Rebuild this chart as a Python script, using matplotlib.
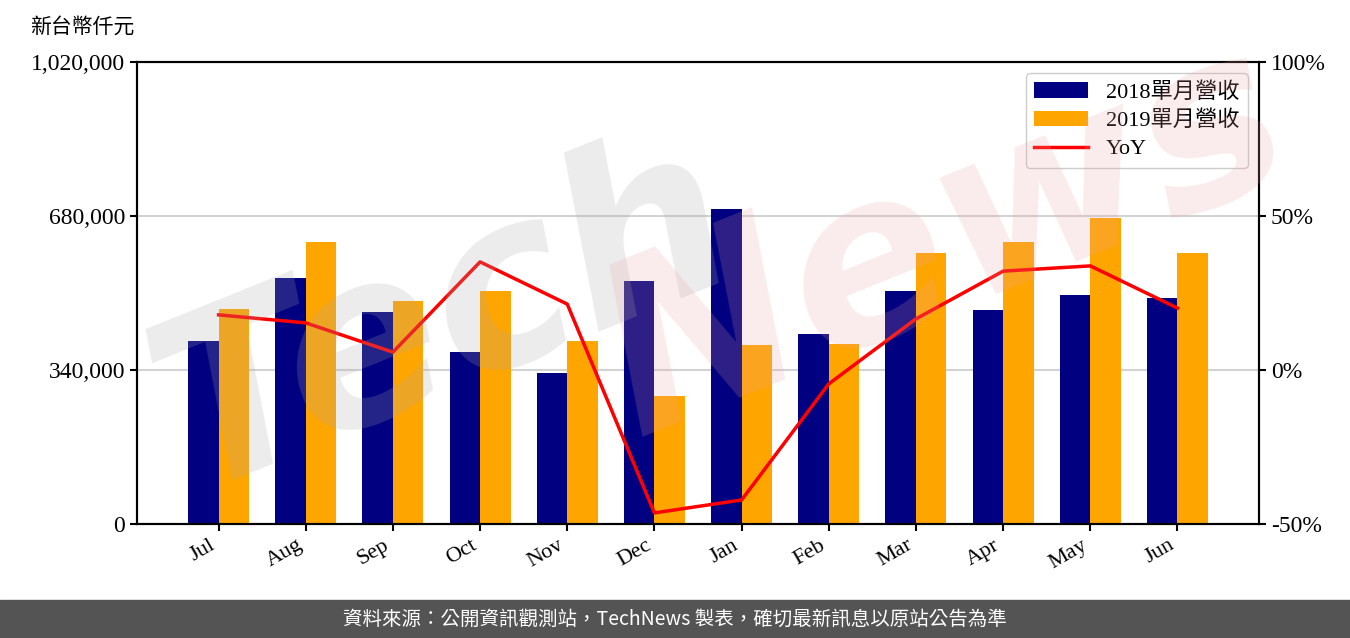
import matplotlib.pyplot as plt
import numpy as np
from matplotlib.patches import Rectangle

months = ['Jul', 'Aug', 'Sep', 'Oct', 'Nov', 'Dec', 'Jan', 'Feb', 'Mar', 'Apr', 'May', 'Jun']
rev_2018 = [404000, 543000, 468000, 380000, 333000, 536000, 695000, 419000, 514000, 472000, 505000, 499000]
rev_2019 = [475000, 623000, 492000, 514000, 404000, 283000, 395000, 397000, 598000, 623000, 676000, 598000]
yoy = [17.9, 15.3, 5.8, 35.1, 21.4, -46.4, -42.2, -4.5, 16.6, 32.1, 33.8, 20.1]

serif = ['Liberation Serif', 'Noto Sans CJK TC']
cjk = ['Noto Sans CJK TC', 'DejaVu Sans']
plt.rcParams['font.family'] = serif

fig = plt.figure(figsize=(13.5, 6.38), dpi=100)
ax = fig.add_axes([0.1015, 0.1787, 0.8311, 0.7241])
x = np.arange(len(months))
w = 0.35
ax.bar(x - w / 2, rev_2018, w, color='#000080', label='2018單月營收', zorder=2)
ax.bar(x + w / 2, rev_2019, w, color='#ffa500', label='2019單月營收', zorder=2)
ax.set_ylim(0, 1020000)
ax.set_yticks([0, 340000, 680000, 1020000])
ax.set_yticklabels(['0', '340,000', '680,000', '1,020,000'], fontsize=17)
ax.set_xticks(x)
ax.set_xticklabels(months, rotation=30, ha='right', fontsize=16)
ax.grid(axis='y', color='#d3d3d3', lw=1.5, zorder=0)
for s in ax.spines.values():
    s.set_linewidth(1.5)
ax.tick_params(width=1.5, length=5)

ax2 = ax.twinx()
ax2.plot(x, yoy, color='red', lw=2.5, label='YoY', zorder=3)
ax2.set_ylim(-50, 100)
ax2.set_yticks([-50, 0, 50, 100])
ax2.set_yticklabels(['-50%', '0%', '50%', '100%'], fontsize=17)
ax2.tick_params(width=1.5, length=5)
for s in ax2.spines.values():
    s.set_linewidth(1.5)

h1, l1 = ax.get_legend_handles_labels()
h2, l2 = ax2.get_legend_handles_labels()
ax2.legend(h1 + h2, l1 + l2, loc='upper right', fontsize=16, handlelength=2.4,
           borderpad=0.4, labelspacing=0.35, framealpha=1)

fig.text(0.022, 0.957, '新台幣仟元', fontsize=15, family=serif, va='center')

# watermark
fig.text(0.33, 0.5, 'Tech', fontsize=170, style='italic', weight='bold', color='#a8a8a8',
         alpha=0.22, rotation=22, ha='center', va='center', family='DejaVu Sans', zorder=10)
fig.text(0.7, 0.62, 'News', fontsize=170, style='italic', weight='bold', color='#e8a0a0',
         alpha=0.2, rotation=22, ha='center', va='center', family='DejaVu Sans', zorder=10)

fig.patches.append(Rectangle((0, 0), 1, 38 / 638, transform=fig.transFigure,
                             color='#545454', zorder=0))
fig.text(0.5, 19 / 638, '資料來源：公開資訊觀測站，TechNews 製表，確切最新訊息以原站公告為準',
         color='white', fontsize=14, ha='center', va='center', family=cjk)

fig.savefig('out.png', dpi=100)
